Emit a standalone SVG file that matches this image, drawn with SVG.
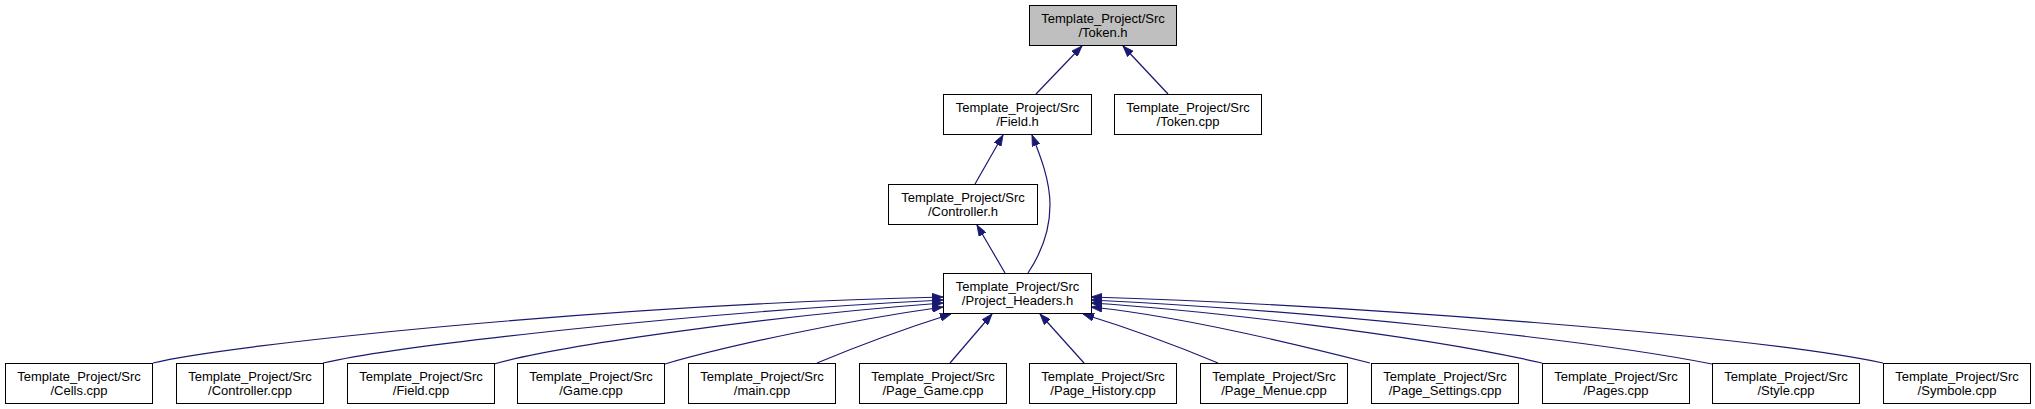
<svg xmlns="http://www.w3.org/2000/svg" width="2035" height="409" viewBox="0 0 2035 409">
<style>
.n rect{fill:#fff;stroke:#000;stroke-width:1}
.n.root rect{fill:#bfbfbf}
.n text{font-family:"Liberation Sans",Arial,sans-serif;font-size:13px;fill:#000;text-anchor:middle}
.e path{fill:none;stroke:#191970;stroke-width:1.2}
</style>
<defs>
<marker id="ah" viewBox="0 0 11 8" markerWidth="11" markerHeight="8" markerUnits="userSpaceOnUse" refX="11" refY="4" orient="auto">
<path d="M0,0 L11,4 L0,8 z" fill="#191970" stroke="#191970" stroke-width="0.8"/>
</marker>
</defs>
<rect width="2035" height="409" fill="#fff"/>
<g id="edges" class="e">
<path marker-end="url(#ah)" d="M1036,94 L1082,46"/>
<path marker-end="url(#ah)" d="M1168,94 L1123,46"/>
<path marker-end="url(#ah)" d="M975,184 L1003,135"/>
<path marker-end="url(#ah)" d="M1028,273 C1038,258 1050,235 1050,205 C1050,180 1040,155 1032,135"/>
<path marker-end="url(#ah)" d="M1005,273 L977,225"/>
<path marker-end="url(#ah)" d="M153,363 C226,345 600,305 943,297"/>
<path marker-end="url(#ah)" d="M323,363 C400,345 700,312 943,300"/>
<path marker-end="url(#ah)" d="M494,364 C560,345 780,315 943,303"/>
<path marker-end="url(#ah)" d="M665,364 C730,345 850,320 943,307"/>
<path marker-end="url(#ah)" d="M817,363 C860,345 910,327 951,314"/>
<path marker-end="url(#ah)" d="M950,363 L992,314"/>
<path marker-end="url(#ah)" d="M1084,363 L1040,314"/>
<path marker-end="url(#ah)" d="M1218,363 C1175,345 1125,327 1083,314"/>
<path marker-end="url(#ah)" d="M1370,363 C1280,340 1170,315 1091,307"/>
<path marker-end="url(#ah)" d="M1542,363 C1420,335 1200,310 1091,303"/>
<path marker-end="url(#ah)" d="M1712,364 C1580,338 1300,310 1091,300"/>
<path marker-end="url(#ah)" d="M1883,363 C1750,335 1350,305 1091,297"/>
</g>
<g id="token_h" class="n root"><rect x="1029.5" y="5.5" width="147" height="40"/><text x="1103" y="23">Template_Project/Src</text><text x="1103" y="36.5">/Token.h</text></g>
<g id="field_h" class="n"><rect x="943.5" y="94.5" width="148" height="40"/><text x="1017.5" y="112">Template_Project/Src</text><text x="1017.5" y="125.5">/Field.h</text></g>
<g id="token_cpp" class="n"><rect x="1114.5" y="94.5" width="147" height="40"/><text x="1188" y="112">Template_Project/Src</text><text x="1188" y="125.5">/Token.cpp</text></g>
<g id="controller_h" class="n"><rect x="888.5" y="184.5" width="149" height="40"/><text x="963" y="202">Template_Project/Src</text><text x="963" y="215.5">/Controller.h</text></g>
<g id="project_headers_h" class="n"><rect x="943.5" y="273.5" width="148" height="40"/><text x="1017.5" y="291">Template_Project/Src</text><text x="1017.5" y="304.5">/Project_Headers.h</text></g>
<g id="cells_cpp" class="n"><rect x="5.5" y="363.5" width="147" height="40"/><text x="79" y="381">Template_Project/Src</text><text x="79" y="394.5">/Cells.cpp</text></g>
<g id="controller_cpp" class="n"><rect x="176.5" y="363.5" width="147" height="40"/><text x="250" y="381">Template_Project/Src</text><text x="250" y="394.5">/Controller.cpp</text></g>
<g id="field_cpp" class="n"><rect x="347.5" y="363.5" width="147" height="40"/><text x="421" y="381">Template_Project/Src</text><text x="421" y="394.5">/Field.cpp</text></g>
<g id="game_cpp" class="n"><rect x="517.5" y="363.5" width="147" height="40"/><text x="591" y="381">Template_Project/Src</text><text x="591" y="394.5">/Game.cpp</text></g>
<g id="main_cpp" class="n"><rect x="688.5" y="363.5" width="147" height="40"/><text x="762" y="381">Template_Project/Src</text><text x="762" y="394.5">/main.cpp</text></g>
<g id="page_game_cpp" class="n"><rect x="859.5" y="363.5" width="147" height="40"/><text x="933" y="381">Template_Project/Src</text><text x="933" y="394.5">/Page_Game.cpp</text></g>
<g id="page_history_cpp" class="n"><rect x="1029.5" y="363.5" width="147" height="40"/><text x="1103" y="381">Template_Project/Src</text><text x="1103" y="394.5">/Page_History.cpp</text></g>
<g id="page_menue_cpp" class="n"><rect x="1200.5" y="363.5" width="147" height="40"/><text x="1274" y="381">Template_Project/Src</text><text x="1274" y="394.5">/Page_Menue.cpp</text></g>
<g id="page_settings_cpp" class="n"><rect x="1371.5" y="363.5" width="147" height="40"/><text x="1445" y="381">Template_Project/Src</text><text x="1445" y="394.5">/Page_Settings.cpp</text></g>
<g id="pages_cpp" class="n"><rect x="1542.5" y="363.5" width="147" height="40"/><text x="1616" y="381">Template_Project/Src</text><text x="1616" y="394.5">/Pages.cpp</text></g>
<g id="style_cpp" class="n"><rect x="1712.5" y="363.5" width="147" height="40"/><text x="1786" y="381">Template_Project/Src</text><text x="1786" y="394.5">/Style.cpp</text></g>
<g id="symbole_cpp" class="n"><rect x="1883.5" y="363.5" width="147" height="40"/><text x="1957" y="381">Template_Project/Src</text><text x="1957" y="394.5">/Symbole.cpp</text></g>
</svg>
